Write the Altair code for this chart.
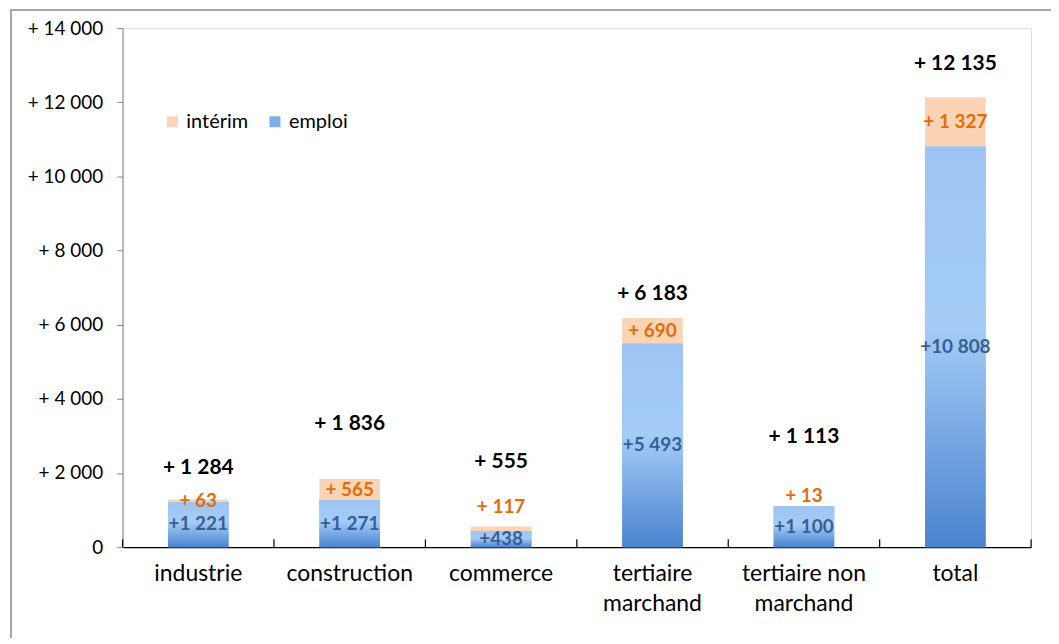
import altair as alt
import pandas as pd

# ---- data ----
categories = ["industrie", "construction", "commerce", "tertiaire marchand",
              "tertiaire non marchand", "total"]
emploi = [1221, 1271, 438, 5493, 1100, 10808]
interim = [63, 565, 117, 690, 13, 1327]

# ---- style: manual label nudges (pixels), as in the reference ----
total_label_dy = [-32, -55, -65, -24, -69, -33]
interim_label_dy = [0, 0, -22, 0, -10, 0]

FONT = "Lato"
PEACH = "#fbd3b5"
ORANGE = "#e46c0a"
DKBLUE = "#366092"
PLOT_H = 521
Y_MAX = 14000
PX = Y_MAX / PLOT_H  # data units per pixel


def fmt(v):
    return f"{v:,}".replace(",", " ")


rows = []
for c, e, i in zip(categories, emploi, interim):
    rows.append({"category": c, "series": "emploi", "start": 0, "end": e})
    rows.append({"category": c, "series": "intérim", "start": e, "end": e + i})
long_df = pd.DataFrame(rows)

lab_df = pd.DataFrame({
    "category": categories,
    "emploi": emploi,
    "interim": interim,
    "lab_e": ["+" + fmt(e) for e in emploi],
    "lab_i": ["+ " + fmt(i) for i in interim],
    "lab_t": ["+ " + fmt(e + i) for e, i in zip(emploi, interim)],
    "dy_t": total_label_dy,
    "dy_i": interim_label_dy,
})

xscale = alt.Scale(domain=categories, paddingInner=0, paddingOuter=0)
yscale = alt.Scale(domain=[0, Y_MAX])

label_expr = ("datum.value == 'tertiaire marchand' ? ['tertiaire', 'marchand'] : "
              "datum.value == 'tertiaire non marchand' ? ['tertiaire non', 'marchand'] : datum.value")

x_enc = alt.X("category:N", scale=xscale, sort=categories,
              axis=alt.Axis(title=None, labelAngle=0, ticks=False, labelPadding=15,
                            labelFontSize=23, labelFont=FONT, labelColor="#000000",
                            labelLineHeight=31, domainColor="#000000", domainWidth=1.2,
                            labelExpr=label_expr, labelBaseline="top"))

bars = alt.Chart(long_df).mark_bar(width={"band": 0.4}).encode(
    x=x_enc,
    y=alt.Y("start:Q", scale=yscale,
            axis=alt.Axis(title=None, values=list(range(0, 14001, 2000)), grid=False,
                          tickSize=6, tickColor="#868686", domainColor="#868686",
                          labelPadding=14, labelFontSize=19, labelFont=FONT,
                          labelColor="#000000",
                          labelExpr="datum.value == 0 ? '0' : '+ ' + replace(format(datum.value, ','), ',', ' ')")),
    y2="end:Q",
    color=alt.Color("series:N",
                    scale=alt.Scale(domain=["intérim", "emploi"], range=[PEACH, "#7eaee8"]),
                    legend=alt.Legend(title=None, orient="none", legendX=40, legendY=84,
                                      direction="horizontal", symbolType="square",
                                      symbolSize=121, symbolStrokeWidth=0,
                                      labelFontSize=20, labelFont=FONT, labelColor="#000000",
                                      columnPadding=16)),
)

gradient = {
    "gradient": "linear", "x1": 0, "y1": 0, "x2": 0, "y2": 1,
    "stops": [
        {"offset": 0, "color": "#9dc4f3"},
        {"offset": 0.45, "color": "#a4ccf7"},
        {"offset": 1, "color": "#4a83cf"},
    ],
}

grad_bars = alt.Chart(long_df).transform_filter(
    alt.datum.series == "emploi"
).mark_bar(width={"band": 0.4}, color=gradient).encode(
    x=alt.X("category:N", scale=xscale, sort=categories),
    y=alt.Y("start:Q", scale=yscale),
    y2="end:Q",
)

labels = alt.Chart(lab_df).transform_calculate(
    y_e="datum.emploi / 2",
    y_i=f"datum.emploi + datum.interim / 2 - datum.dy_i * {PX}",
    y_t=f"datum.emploi + datum.interim - datum.dy_t * {PX}",
)

txt_e = labels.mark_text(font=FONT, fontSize=19, fontWeight="bold",
                         color=DKBLUE, baseline="middle").encode(
    x=alt.X("category:N", scale=xscale, sort=categories),
    y=alt.Y("y_e:Q", scale=yscale),
    text="lab_e:N",
)

txt_i = labels.mark_text(font=FONT, fontSize=19, fontWeight="bold",
                         color=ORANGE, baseline="middle").encode(
    x=alt.X("category:N", scale=xscale, sort=categories),
    y=alt.Y("y_i:Q", scale=yscale),
    text="lab_i:N",
)

txt_t = labels.mark_text(font=FONT, fontSize=21, fontWeight="bold",
                         color="#000000", baseline="middle").encode(
    x=alt.X("category:N", scale=xscale, sort=categories),
    y=alt.Y("y_t:Q", scale=yscale),
    text="lab_t:N",
)

# inward x-axis ticks at band boundaries
ticks_left = alt.Chart(lab_df).mark_rule(color="#000000", strokeWidth=1.2).encode(
    x=alt.X("category:N", scale=xscale, sort=categories, bandPosition=0),
    y=alt.value(513), y2=alt.value(521),
)
ticks_right = alt.Chart(lab_df).transform_filter(
    alt.datum.category == "total"
).mark_rule(color="#000000", strokeWidth=1.2).encode(
    x=alt.X("category:N", scale=xscale, sort=categories, bandPosition=1),
    y=alt.value(513), y2=alt.value(521),
)

frame = alt.Chart(lab_df).mark_rect(filled=False, stroke="#a6a6a6", strokeWidth=1.5).encode(
    x=alt.value(-112), x2=alt.value(980), y=alt.value(-18), y2=alt.value(660),
)

chart = alt.layer(frame, bars, grad_bars, ticks_left, ticks_right, txt_e, txt_i, txt_t).properties(
    width=912, height=PLOT_H,
    autosize=alt.AutoSizeParams(type="none"),
    padding={"left": 115, "top": 19, "right": 20, "bottom": 90},
).configure_view(stroke=None).configure(background="#ffffff")

chart.save("out.html", embed_options={"renderer": "svg", "actions": False})
